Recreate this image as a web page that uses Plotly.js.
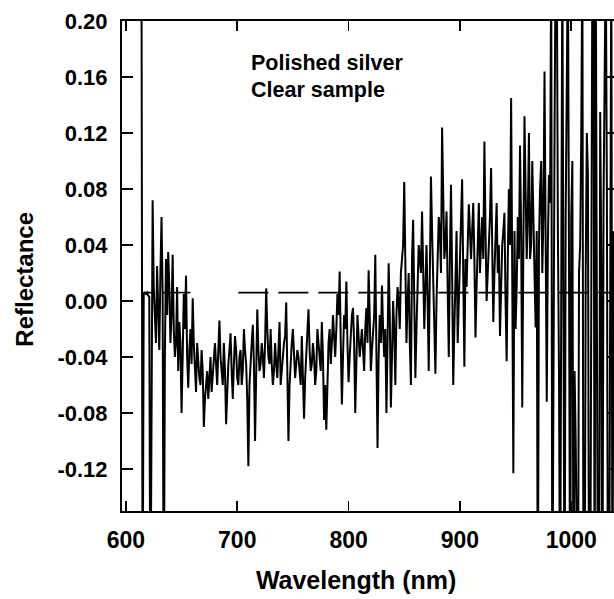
<!DOCTYPE html>
<html>
<head>
<meta charset="utf-8">
<script src="https://cdn.plot.ly/plotly-3.0.1.min.js"></script>
<style>
html,body{margin:0;padding:0;background:#fff;overflow:hidden;}
#chart{width:624px;height:599px;}
</style>
</head>
<body>
<div id="chart"></div>
<script>
// Wavelength grid: start and step (nm)
var wavelengthStart = 614;
var wavelengthStep = 1;

// Reflectance, one value per nm from 614 to 1038 nm
var reflectance = [
  0.25, -0.25, 0.005, 0.006, 0.005, 0.006, 0.004, 0.003, -0.25, -0.01,
  0.072, 0.01, -0.02, -0.03, 0.025, 0.0, -0.035, 0.02, 0.06, 0.005,
  -0.25, -0.04, 0.03, -0.01, 0.035, 0.01, -0.03, -0.01, 0.033, -0.02,
  -0.04, -0.03, 0.01, -0.05, -0.015, -0.03, -0.08, -0.04, 0.005, -0.02,
  0.018, -0.04, -0.062, -0.035, -0.02, -0.045, 0.002, -0.03, -0.05, -0.065,
  -0.03, -0.045, -0.055, -0.06, -0.035, -0.05, -0.09, -0.07, -0.06, -0.05,
  -0.07, -0.055, -0.04, -0.065, -0.055, -0.045, -0.03, -0.045, -0.06, -0.035,
  -0.014, -0.04, -0.05, -0.06, -0.03, -0.05, -0.088, -0.06, -0.045, -0.035,
  -0.023, -0.05, -0.07, -0.045, -0.025, -0.035, -0.055, -0.06, -0.04, -0.035,
  -0.06, -0.05, -0.02, -0.035, -0.045, -0.07, -0.118, -0.06, -0.04, -0.03,
  -0.017, -0.045, -0.10, -0.05, -0.006, -0.035, -0.05, -0.045, -0.03, -0.04,
  -0.055, -0.03, 0.009, -0.02, -0.04, -0.045, -0.02, -0.045, -0.06, -0.05,
  -0.03, -0.045, -0.055, -0.035, -0.015, -0.06, -0.045, -0.04, -0.03, -0.025,
  -0.001, -0.05, -0.10, -0.06, -0.04, -0.03, -0.02, -0.04, -0.055, -0.045,
  -0.035, -0.04, -0.05, -0.06, -0.025, -0.05, -0.084, -0.055, -0.04, -0.03,
  -0.006, -0.035, -0.05, -0.045, -0.03, -0.04, -0.06, -0.05, -0.02, -0.03,
  -0.04, -0.05, -0.015, -0.04, -0.085, -0.06, -0.092, -0.05, -0.03, -0.02,
  -0.045, -0.03, -0.01, -0.025, -0.04, -0.02, 0.005, -0.01, 0.021, -0.03,
  -0.074, -0.04, -0.01, -0.02, 0.014, -0.03, -0.058, -0.04, -0.02, -0.01,
  -0.005, -0.03, -0.08, -0.05, -0.01, -0.025, -0.04, -0.03, -0.02, -0.035,
  -0.05, -0.02, -0.005, -0.03, 0.022, -0.01, -0.05, -0.035, -0.02, -0.01,
  0.033, -0.02, -0.105, -0.04, -0.01, -0.03, 0.011, -0.02, -0.04, -0.02,
  -0.08, -0.03, 0.027, -0.01, -0.076, -0.04, 0.0, -0.02, -0.06, -0.01,
  0.01, 0.0, -0.02, 0.02, 0.035, 0.04, 0.085, 0.02, -0.03, 0.0,
  0.02, -0.03, -0.06, 0.03, 0.058, 0.0, -0.055, -0.02, 0.01, 0.04,
  0.03, 0.02, 0.064, 0.03, -0.02, 0.01, 0.04, 0.0, -0.05, 0.02,
  0.089, 0.05, 0.02, -0.01, -0.052, 0.0, 0.03, 0.06, 0.05, 0.02,
  0.124, 0.07, 0.03, 0.04, 0.064, 0.01, -0.04, 0.03, 0.083, 0.02,
  -0.06, -0.02, 0.02, 0.05, -0.03, 0.0, 0.04, 0.06, 0.087, 0.02,
  -0.047, 0.03, 0.01, 0.04, 0.069, 0.05, 0.03, 0.05, 0.07, 0.03,
  -0.026, 0.01, 0.05, 0.07, 0.02, 0.04, 0.06, 0.03, 0.114, 0.05,
  0.0, 0.02, 0.04, 0.06, 0.095, 0.03, -0.015, 0.02, 0.05, 0.07,
  0.02, 0.04, -0.025, 0.02, 0.04, 0.05, 0.063, 0.0, -0.043, 0.03,
  0.08, 0.04, 0.145, 0.02, -0.123, 0.05, -0.02, 0.01, 0.06, 0.03,
  0.111, 0.05, -0.076, 0.04, 0.132, 0.08, 0.03, 0.06, 0.12, 0.03,
  0.04, 0.1, 0.07, 0.02, -0.019, 0.05, -0.25, 0.04, 0.08, 0.1,
  0.02, 0.06, 0.164, 0.03, -0.072, 0.04, 0.09, 0.07, 0.25, -0.25,
  -0.03, 0.12, 0.25, 0.25, 0.05, -0.05, -0.25, 0.1, 0.25, 0.0,
  -0.25, 0.06, 0.25, 0.25, 0.03, -0.25, 0.06, 0.1, -0.25, -0.05,
  -0.1, -0.25, -0.25, 0.02, 0.04, 0.12, 0.25, -0.25, -0.25, 0.02,
  0.12, 0.09, -0.25, -0.25, 0.06, 0.25, 0.25, -0.25, 0.25, 0.05,
  -0.25, -0.25, 0.135, 0.03, -0.25, 0.07, 0.25, 0.25, 0.08, -0.25,
  -0.25, 0.09, 0.25, -0.25, 0.05
];

// Dashed reference line
var baselineX = [614, 625, null, 633, 658, null, 701, 1042];
var baselineY = [0.006, 0.006, null, 0.006, 0.006, null, 0.006, 0.006];

// Ticks
var xTickVals = [600, 700, 800, 900, 1000];
var xTickText = ['600', '700', '800', '900', '1000'];
var yTickVals = [0.20, 0.16, 0.12, 0.08, 0.04, 0.00, -0.04, -0.08, -0.12];
var yTickText = ['0.20', '0.16', '0.12', '0.08', '0.04', '0.00', '-0.04', '-0.08', '-0.12'];

// Annotation texts
var noteLines = ['Polished silver', 'Clear sample'];

var fam = 'Liberation Sans, Arial, sans-serif';
var xLabelFont = {family: fam, size: 23, color: '#000', weight: 'bold'};
var yLabelFont = {family: fam, size: 22, color: '#000', weight: 'bold'};
var xTitleFont = {family: fam, size: 25, color: '#000', weight: 'bold'};
var yTitleFont = {family: fam, size: 24, color: '#000', weight: 'bold'};
var noteFont = {family: fam, size: 21.5, color: '#000', weight: 'bold'};
var pad = '\u00a0\u00a0\u00a0\u00a0\u200b';

var traces = [
  {
    type: 'scatter', mode: 'lines',
    x0: wavelengthStart, dx: wavelengthStep, y: reflectance,
    line: {color: '#000', width: 2},
    showlegend: false, hoverinfo: 'skip'
  },
  {
    type: 'scatter', mode: 'lines',
    x: baselineX, y: baselineY,
    line: {color: '#000', width: 1.6, dash: '30px,10px'},
    connectgaps: false,
    showlegend: false, hoverinfo: 'skip'
  }
];

var layout = {
  width: 624, height: 599,
  margin: {l: 122, r: 6, t: 21, b: 88},
  paper_bgcolor: '#fff', plot_bgcolor: '#fff',
  showlegend: false,
  xaxis: {
    range: [596.5, 1042],
    tickvals: xTickVals, ticktext: xTickText,
    ticks: 'inside', ticklen: 10, tickwidth: 1.5, tickcolor: '#000',
    showline: true, linewidth: 2, linecolor: '#000', mirror: 'ticks',
    showgrid: false, zeroline: false,
    tickfont: xLabelFont,
    ticklabelstandoff: 7,
    title: {text: 'Wavelength (nm)' + pad, font: xTitleFont, standoff: 20}
  },
  yaxis: {
    range: [-0.15, 0.20],
    tickvals: yTickVals, ticktext: yTickText,
    ticks: 'inside', ticklen: 11, tickwidth: 1.5, tickcolor: '#000',
    showline: true, linewidth: 2, linecolor: '#000', mirror: 'ticks',
    showgrid: false, zeroline: false,
    tickfont: yLabelFont,
    ticklabelstandoff: 8,
    title: {text: 'Reflectance' + pad, font: yTitleFont, standoff: 17}
  },
  annotations: [
    {xref: 'paper', yref: 'paper', x: 0.256, y: 0.914, xanchor: 'left', yanchor: 'middle',
     text: noteLines[0], showarrow: false, font: noteFont},
    {xref: 'paper', yref: 'paper', x: 0.256, y: 0.860, xanchor: 'left', yanchor: 'middle',
     text: noteLines[1], showarrow: false, font: noteFont}
  ]
};

Plotly.newPlot('chart', traces, layout, {displayModeBar: false, staticPlot: true});
</script>
</body>
</html>
